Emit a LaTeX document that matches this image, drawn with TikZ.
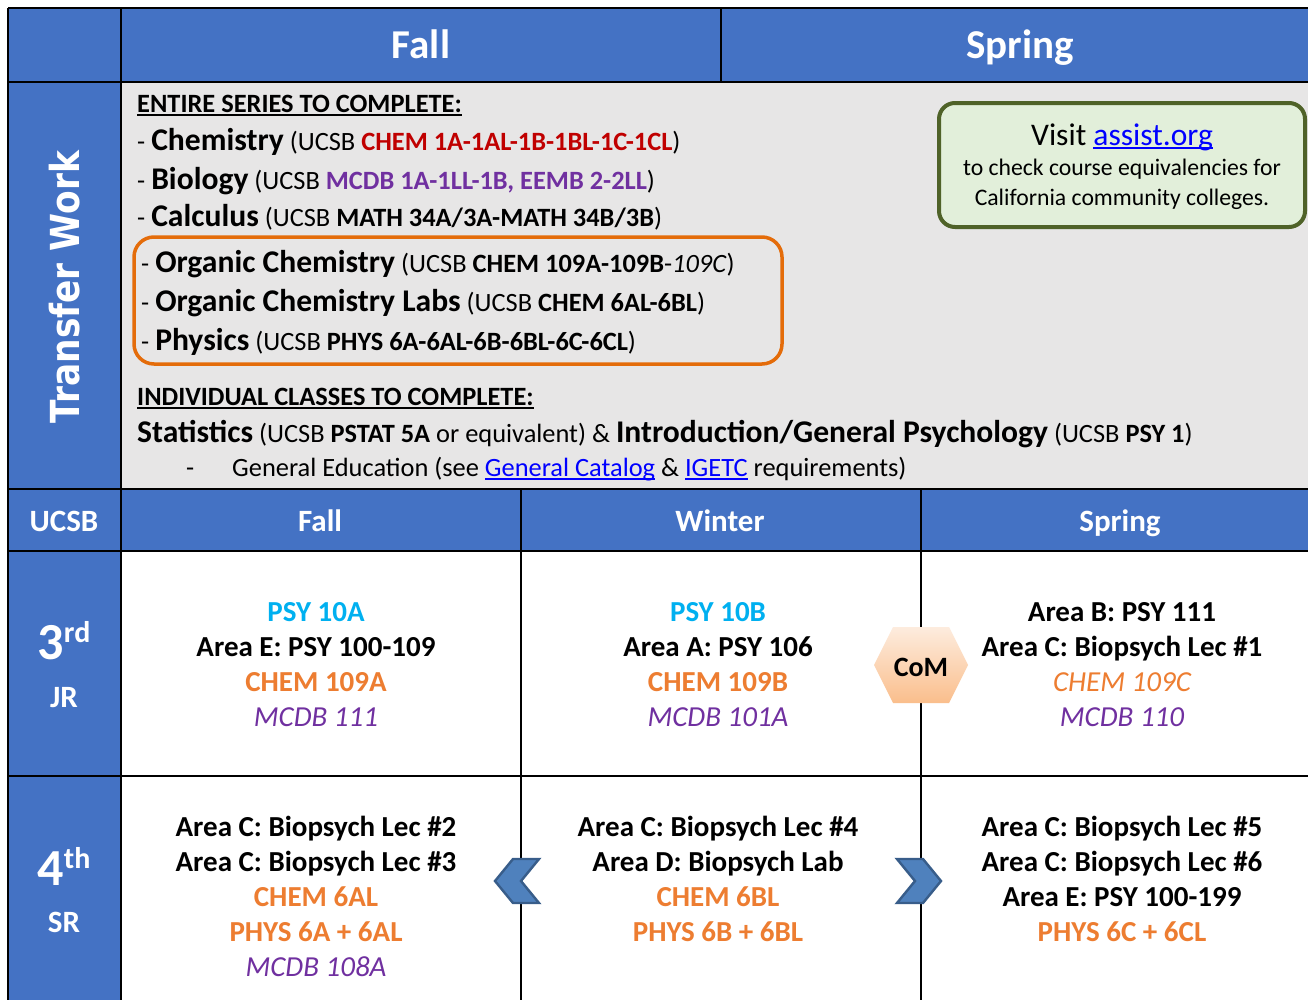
\documentclass[tikz,border=0pt]{standalone}
\usepackage{fontspec}
\setmainfont{Carlito}
\newfontfamily\sideFont[FakeStretch=0.86]{DejaVu Sans}
\usepackage{tikz}
\usetikzlibrary{positioning}
\definecolor{headBlue}{RGB}{68,114,196}
\definecolor{grayBg}{RGB}{231,230,230}
\definecolor{orangeTxt}{RGB}{237,125,49}
\definecolor{cyanTxt}{RGB}{0,176,240}
\definecolor{purpleTxt}{RGB}{112,48,160}
\definecolor{redTxt}{RGB}{192,0,0}
\definecolor{linkBlue}{RGB}{0,0,255}
\definecolor{boxOrange}{RGB}{228,108,10}
\definecolor{boxGreen}{RGB}{79,98,40}
\definecolor{fillGreen}{RGB}{226,239,218}
\definecolor{hexTop}{RGB}{253,236,222}
\definecolor{hexBot}{RGB}{250,190,140}
\definecolor{chevBlue}{RGB}{79,129,189}
\definecolor{chevEdge}{RGB}{56,93,138}
\newsavebox\ulBox
\newcommand{\ulText}[1]{\sbox\ulBox{#1}\rlap{\rule[-3.5pt]{\wd\ulBox}{1.6pt}}\usebox\ulBox}
\newcommand{\courseName}[1]{{\fontsize{31.6}{36}\selectfont\bfseries #1}}
\newcommand{\linkText}[1]{\textcolor{linkBlue}{\ulText{#1}}}
\tikzset{
  headNode/.style={%
    font=\fontsize{41}{45}\selectfont\bfseries, text=white, anchor=base, inner sep=0pt,
  },
  subHeadNode/.style={%
    headNode, font=\fontsize{31}{35}\selectfont\bfseries,
  },
  yearNode/.style={%
    headNode, font=\fontsize{52}{52}\selectfont\bfseries,
  },
  lineNode/.style={%
    font=\fontsize{26.4}{30}\selectfont, anchor=base west, inner sep=0pt,
  },
  cellNode/.style={%
    font=\fontsize{29}{35}\selectfont\bfseries, anchor=base, inner sep=0pt,
  },
  psyNode/.style={cellNode, text=cyanTxt},
  areaNode/.style={cellNode},
  chemNode/.style={cellNode, text=orangeTxt},
  chemItNode/.style={cellNode, text=orangeTxt, font=\fontsize{29}{35}\selectfont\itshape},
  mcdbNode/.style={cellNode, text=purpleTxt, font=\fontsize{29}{35}\selectfont\itshape},
  visitNode/.style={%
    font=\fontsize{23.7}{28}\selectfont, anchor=base, inner sep=0pt,
  },
  gridLine/.style={line width=2.6pt, black},
  chevShape/.style={fill=chevBlue, draw=chevEdge, line width=2.4pt, line join=miter},
}

\begin{document}
\begin{tikzpicture}[x=1pt,y=-1pt]
        \useasboundingbox (0,0) rectangle (1308,999);
        \clip (0,0) rectangle (1308,999);
        \fill[white] (0,0) rectangle (1308,999);
        \fill[headBlue] (8,8) rectangle (1320,82);
        \fill[headBlue] (8,82) rectangle (121,1010);
        \fill[grayBg] (121,82) rectangle (1320,489);
        \fill[headBlue] (121,489) rectangle (1320,551);
        \foreach \yy in {8,82,489,551,776}
        {
          \draw[gridLine] (8,\yy) -- (1320,\yy);
        }
        \foreach \xx in {8,121}
        {
          \draw[gridLine] (\xx,8) -- (\xx,1010);
        }
        \draw[gridLine] (721,8) -- (721,82);
        \foreach \xx in {521,921}
        {
          \draw[gridLine] (\xx,489) -- (\xx,1010);
        }

        \node[headNode] (topFall) at (421,58) {Fall};
        \node[headNode] (topSpring) at (1020,58) {Spring};
        \node[text=white, font=\sideFont\fontsize{40}{40}\selectfont\bfseries, rotate=90, inner sep=0pt] (transferTitle) at (65,287) {Transfer Work};

        \node[lineNode, font=\fontsize{26.4}{30}\selectfont\bfseries] (entireHd) at (137,112) {\ulText{ENTIRE SERIES TO COMPLETE:}};
        \node[lineNode] (lineChem) at (137,150) {- \courseName{Chemistry} (UCSB \textbf{\textcolor{redTxt}{CHEM 1A-1AL-1B-1BL-1C-1CL}})};
        \node[lineNode] (lineBio) at (137,189) {- \courseName{Biology} (UCSB \textbf{\textcolor{purpleTxt}{MCDB 1A-1LL-1B, EEMB 2-2LL}})};
        \node[lineNode] (lineCalc) at (137,226) {- \courseName{Calculus} (UCSB \textbf{MATH 34A/3A-MATH 34B/3B})};
        \draw[boxOrange, line width=3.5pt, rounded corners=20pt] (134,237) rectangle (782,364);
        \node[lineNode] (lineOrg) at (141,272) {- \courseName{Organic Chemistry} (UCSB \textbf{CHEM 109A-109B}-\textit{109C})};
        \node[lineNode] (lineLab) at (141,311) {- \courseName{Organic Chemistry Labs} (UCSB \textbf{CHEM 6AL-6BL})};
        \node[lineNode] (linePhys) at (141,350) {- \courseName{Physics} (UCSB \textbf{PHYS 6A-6AL-6B-6BL-6C-6CL})};
        \node[lineNode, font=\fontsize{26.4}{30}\selectfont\bfseries] (indivHd) at (137,405) {\ulText{INDIVIDUAL CLASSES TO COMPLETE:}};
        \node[lineNode] (lineStat) at (137,442) {\courseName{Statistics} (UCSB \textbf{PSTAT 5A} or equivalent) \& \courseName{Introduction/General Psychology} (UCSB \textbf{PSY 1})};
        \node[lineNode] (geDash) at (186,476) {-};
        \node[lineNode] (lineGE) at (232,476) {General Education (see \linkText{General Catalog} \& \linkText{IGETC} requirements)};

        \draw[boxGreen, fill=fillGreen, line width=4pt, rounded corners=16pt] (939,103) rectangle (1305,227);
        \node[visitNode, font=\fontsize{31.5}{34}\selectfont] (visitLine) at (1122,145) {Visit \linkText{assist.org}};
        \node[visitNode] (visitNoteA) at (1122,175) {to check course equivalencies for};
        \node[visitNode] (visitNoteB) at (1122,205) {California community colleges.};

        \node[subHeadNode] (subUcsb) at (64,531) {UCSB};
        \node[subHeadNode] (subFall) at (320,531) {Fall};
        \node[subHeadNode] (subWinter) at (720,531) {Winter};
        \node[subHeadNode] (subSpring) at (1120,531) {Spring};

        \node[yearNode] (yearJr) at (64,659) {3\raisebox{17pt}{\fontsize{30}{30}\selectfont rd}};
        \node[subHeadNode] (labelJr) at (64,707) {JR};
        \node[yearNode] (yearSr) at (64,885) {4\raisebox{17pt}{\fontsize{30}{30}\selectfont th}};
        \node[subHeadNode] (labelSr) at (64,932) {SR};

        \foreach \txt/\sty [count=\k] in {PSY 10A/psyNode, Area E: PSY 100-109/areaNode, CHEM 109A/chemNode, MCDB 111/mcdbNode}
        {
          \node[\sty] (jrFall\k) at (316,{621+35.3*(\k-1)}) {\txt};
        }
        \foreach \txt/\sty [count=\k] in {PSY 10B/psyNode, Area A: PSY 106/areaNode, CHEM 109B/chemNode, MCDB 101A/mcdbNode}
        {
          \node[\sty] (jrWinter\k) at (718,{621+35.3*(\k-1)}) {\txt};
        }
        \foreach \txt/\sty [count=\k] in {Area B: PSY 111/areaNode, Area C: Biopsych Lec \#1/areaNode, CHEM 109C/chemItNode, MCDB 110/mcdbNode}
        {
          \node[\sty] (jrSpring\k) at (1122,{621+35.3*(\k-1)}) {\txt};
        }
        \foreach \txt/\sty [count=\k] in {Area C: Biopsych Lec \#2/areaNode, Area C: Biopsych Lec \#3/areaNode, CHEM 6AL/chemNode, PHYS 6A + 6AL/chemNode, MCDB 108A/mcdbNode}
        {
          \node[\sty] (srFall\k) at (316,{836+35.1*(\k-1)}) {\txt};
        }
        \foreach \txt/\sty [count=\k] in {Area C: Biopsych Lec \#4/areaNode, Area D: Biopsych Lab/areaNode, CHEM 6BL/chemNode, PHYS 6B + 6BL/chemNode}
        {
          \node[\sty] (srWinter\k) at (718,{836+35.1*(\k-1)}) {\txt};
        }
        \foreach \txt/\sty [count=\k] in {Area C: Biopsych Lec \#5/areaNode, Area C: Biopsych Lec \#6/areaNode, Area E: PSY 100-199/areaNode, PHYS 6C + 6CL/chemNode}
        {
          \node[\sty] (srSpring\k) at (1122,{836+35.1*(\k-1)}) {\txt};
        }

        \shade[top color=hexTop, bottom color=hexBot] (874,665) -- (893,627) -- (949,627) -- (968,665) -- (949,703) -- (893,703) -- cycle;
        \node[cellNode, font=\fontsize{28}{32}\selectfont\bfseries] (com) at (921,676) {CoM};

        \draw[chevShape] (495,881) -- (513,859) -- (539,859) -- (521,881) -- (539,903) -- (513,903) -- cycle;
        \draw[chevShape] (941,881) -- (923,859) -- (897,859) -- (915,881) -- (897,903) -- (923,903) -- cycle;
      \end{tikzpicture}
\end{document}
